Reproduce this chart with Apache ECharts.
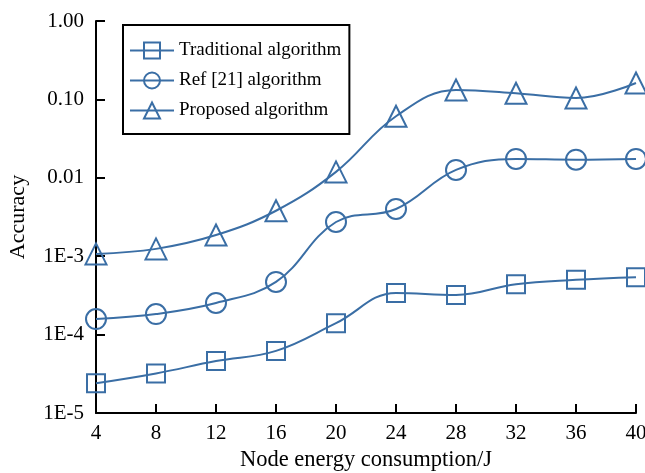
<!DOCTYPE html>
<html><head><meta charset="utf-8">
<script src="https://cdn.jsdelivr.net/npm/echarts@6/dist/echarts.min.js"></script>
<style>html,body{margin:0;padding:0;background:#fff}#c{width:645px;height:473px}</style>
</head><body><div id="c"></div>
<script>
const xValues = [4, 8, 12, 16, 20, 24, 28, 32, 36, 40];
const traditional = [2.4e-5, 3.2e-5, 4.6e-5, 6.2e-5, 1.4e-4, 3.4e-4, 3.2e-4, 4.4e-4, 5.0e-4, 5.4e-4];
const ref21 = [1.58e-4, 1.83e-4, 2.53e-4, 4.7e-4, 2.73e-3, 4.0e-3, 1.26e-2, 1.74e-2, 1.7e-2, 1.74e-2];
const proposed = [1.07e-3, 1.24e-3, 1.86e-3, 3.8e-3, 1.19e-2, 6.1e-2, 0.132, 0.12, 0.104, 0.162];
const yTickValues = [1e-5, 1e-4, 1e-3, 1e-2, 1e-1, 1];
const yTickLabels = ['1E-5', '1E-4', '1E-3', '0.01', '0.10', '1.00'];
const seriesNames = ['Traditional algorithm', 'Ref [21] algorithm', 'Proposed algorithm'];

const blue = '#3a6ea5';
const font = 'Liberation Serif, Times New Roman, serif';
function mk(name, data, symbol, size) {
  return {
    name: name, type: 'line', smooth: 0.4,
    data: xValues.map((x, i) => [x, data[i]]),
    symbol: symbol, symbolSize: size,
    lineStyle: { color: blue, width: 2 },
    itemStyle: { color: 'rgba(255,255,255,0)', borderColor: blue, borderWidth: 2 },
    emphasis: { disabled: true }
  };
}
const chart = echarts.init(document.getElementById('c'));
chart.setOption({
  animation: false,
  backgroundColor: '#fff',
  grid: { left: 96, right: 9, top: 21, bottom: 60, outerBoundsMode: 'none', containLabel: false },
  legend: {
    left: 123, top: 25, orient: 'vertical',
    padding: [16, 8, 14, 6],
    itemGap: 11, itemWidth: 44, itemHeight: 20,
    borderColor: '#000', borderWidth: 2,
    textStyle: { fontFamily: font, fontSize: 19, color: '#000' },
    data: seriesNames
  },
  xAxis: {
    type: 'value', min: 4, max: 40, interval: 4,
    name: 'Node energy consumption/J', nameLocation: 'middle', nameGap: 36,
    nameTextStyle: { fontFamily: font, fontSize: 22.5, color: '#000' },
    axisLine: { lineStyle: { color: '#000', width: 2 } },
    axisTick: { inside: true, length: 9, lineStyle: { color: '#000', width: 2 } },
    axisLabel: { fontFamily: font, fontSize: 21, color: '#000', margin: 10 },
    splitLine: { show: false }
  },
  yAxis: {
    type: 'log', logBase: 10, min: 1e-5, max: 1,
    name: 'Accuracy', nameLocation: 'middle', nameGap: 67,
    nameTextStyle: { fontFamily: font, fontSize: 22, color: '#000' },
    axisLine: { lineStyle: { color: '#000', width: 2 } },
    axisTick: { inside: true, length: 9, lineStyle: { color: '#000', width: 2 } },
    axisLabel: {
      fontFamily: font, fontSize: 21, color: '#000', margin: 12,
      formatter: function (v) {
        for (let i = 0; i < yTickValues.length; i++) {
          if (Math.abs(Math.log10(v) - Math.log10(yTickValues[i])) < 1e-6) return yTickLabels[i];
        }
        return '';
      }
    },
    splitLine: { show: false }
  },
  series: [
    mk(seriesNames[0], traditional, 'rect', 18),
    mk(seriesNames[1], ref21, 'circle', 20),
    mk(seriesNames[2], proposed, 'triangle', 21)
  ]
});
</script></body></html>
